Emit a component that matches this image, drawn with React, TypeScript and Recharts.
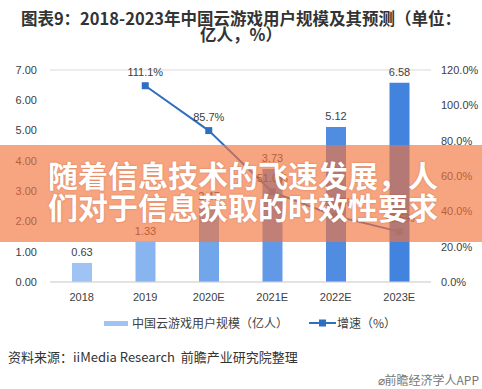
import React from 'react';
import { ComposedChart, Bar, Line, XAxis, YAxis, CartesianGrid, LabelList, Cell } from 'recharts';

const categories = ['2018', '2019', '2020E', '2021E', '2022E', '2023E'];
const users = [0.63, 1.33, 2.47, 3.73, 5.12, 6.58];
const growth: (number | null)[] = [null, 111.1, 85.7, 51.0, 37.3, 28.5];
const barColors = ['#9fc4f3', '#88b5ef', '#72a6ea', '#6299e6', '#508de2', '#4183dd'];
const leftTicks = [0, 1, 2, 3, 4, 5, 6, 7];
const rightTicks = [0, 20, 40, 60, 80, 100, 120];

const title = '图表9：2018-2023年中国云游戏用户规模及其预测（单位：亿人，%）';
const seriesBarName = '中国云游戏用户规模（亿人）';
const seriesLineName = '增速（%）';
const sourceText = '资料来源：iiMedia Research  前瞻产业研究院整理';
const brandText = '前瞻经济学人APP';
const bannerLines = ['随着信息技术的飞速发展，人', '们对于信息获取的时效性要求'];

const data = categories.map((c, i) => ({ name: c, users: users[i], growth: growth[i] }));

const FONT = '"Liberation Sans", "Noto Sans CJK SC", sans-serif';
const CJK = '"Noto Sans CJK SC", "Liberation Sans", sans-serif';
const LINE_COLOR = '#2f6fc2';

const SquareDot = (props: any) => {
  const { cx, cy, index } = props;
  if (cx == null || cy == null || props.value == null) return <g key={`d${index}`} />;
  return <rect key={`d${index}`} x={cx - 3.5} y={cy - 3.5} width={7} height={7} fill={LINE_COLOR} />;
};

export default function App() {
  return (
    <div style={{ position: 'absolute', left: 0, top: 0, width: 482, height: 389, background: '#fff', overflow: 'hidden' }}>
      <div
        style={{
          position: 'absolute',
          left: 15,
          top: 10,
          width: 452,
          textAlign: 'center',
          fontFamily: CJK,
          fontWeight: 700,
          fontSize: 16.5,
          lineHeight: '16px',
          color: '#333',
        }}
      >
        {title}
      </div>
      <div style={{ position: 'absolute', left: 0, top: 0 }}>
        <ComposedChart width={482} height={389} data={data} margin={{ top: 70, right: 0, bottom: 77, left: 0 }}>
          <CartesianGrid vertical={false} stroke="#d9d9d9" />
          <XAxis
            dataKey="name"
            height={30}
            axisLine={{ stroke: '#d9d9d9' }}
            tickLine={false}
            tickMargin={5}
            tick={{ fontSize: 11, fill: '#404040', fontFamily: FONT }}
          />
          <YAxis
            yAxisId="left"
            width={50}
            domain={[0, 7]}
            ticks={leftTicks}
            axisLine={false}
            tickLine={false}
            tickMargin={7}
            tickFormatter={(v: number) => v.toFixed(2)}
            tick={{ fontSize: 11, fill: '#404040', fontFamily: FONT }}
          />
          <YAxis
            yAxisId="right"
            orientation="right"
            width={51}
            domain={[0, 120]}
            ticks={rightTicks}
            axisLine={false}
            tickLine={false}
            tickMargin={4}
            tickFormatter={(v: number) => v.toFixed(1) + '%'}
            tick={{ fontSize: 11, fill: '#404040', fontFamily: FONT }}
          />
          <Bar yAxisId="left" dataKey="users" barSize={20} isAnimationActive={false}>
            {data.map((_, i) => (
              <Cell key={i} fill={barColors[i]} />
            ))}
            <LabelList
              dataKey="users"
              position="top"
              offset={7}
              formatter={(v: any) => Number(v).toFixed(2)}
              style={{ fontSize: 11, fill: '#404040', fontFamily: FONT }}
            />
          </Bar>
          <Line
            yAxisId="right"
            dataKey="growth"
            stroke={LINE_COLOR}
            strokeWidth={2}
            dot={SquareDot}
            activeDot={false}
            isAnimationActive={false}
          >
            <LabelList
              dataKey="growth"
              position="top"
              offset={10}
              formatter={(v: any) => (v == null ? '' : Number(v).toFixed(1) + '%')}
              style={{ fontSize: 11, fill: '#404040', fontFamily: FONT }}
            />
          </Line>
        </ComposedChart>
      </div>
      <div
        style={{
          position: 'absolute',
          left: 0,
          top: 315,
          width: 482,
          height: 16,
          fontFamily: CJK,
          fontSize: 12,
          color: '#404040',
        }}
      >
        <div style={{ position: 'absolute', left: 104, top: 6, width: 24, height: 5, background: barColors[0] }} />
        <div style={{ position: 'absolute', left: 132, top: 0, lineHeight: '16px', whiteSpace: 'nowrap' }}>{seriesBarName}</div>
        <svg style={{ position: 'absolute', left: 309, top: 4 }} width={27} height={8}>
          <line x1={0} y1={4} x2={27} y2={4} stroke={LINE_COLOR} strokeWidth={2} />
          <rect x={10} y={0.5} width={7} height={7} fill={LINE_COLOR} />
        </svg>
        <div style={{ position: 'absolute', left: 337, top: 0, lineHeight: '16px', whiteSpace: 'nowrap' }}>{seriesLineName}</div>
      </div>
      <div
        style={{
          position: 'absolute',
          left: 8,
          top: 349,
          fontFamily: CJK,
          fontSize: 13,
          lineHeight: '16px',
          color: '#333',
          whiteSpace: 'pre',
        }}
      >
        {sourceText}
      </div>
      <div
        style={{
          position: 'absolute',
          right: 3,
          top: 372,
          fontFamily: CJK,
          fontSize: 12,
          lineHeight: '16px',
          color: '#777',
          whiteSpace: 'nowrap',
        }}
      >
        {'⌀' + brandText}
      </div>
      <div
        style={{
          position: 'absolute',
          left: 0,
          top: 145,
          width: 482,
          height: 97,
          background: 'rgba(242,115,60,0.65)',
        }}
      >
        <div
          style={{
            position: 'absolute',
            left: 2,
            top: 13,
            width: 482,
            textAlign: 'center',
            fontFamily: CJK,
            fontWeight: 700,
            fontSize: 30,
            lineHeight: '32px',
            color: '#fff',
            textShadow: '0 0 2px rgba(150,60,30,0.4)',
            whiteSpace: 'nowrap',
          }}
        >
          {bannerLines.map((l, i) => (
            <div key={i}>{l}</div>
          ))}
        </div>
      </div>
    </div>
  );
}
